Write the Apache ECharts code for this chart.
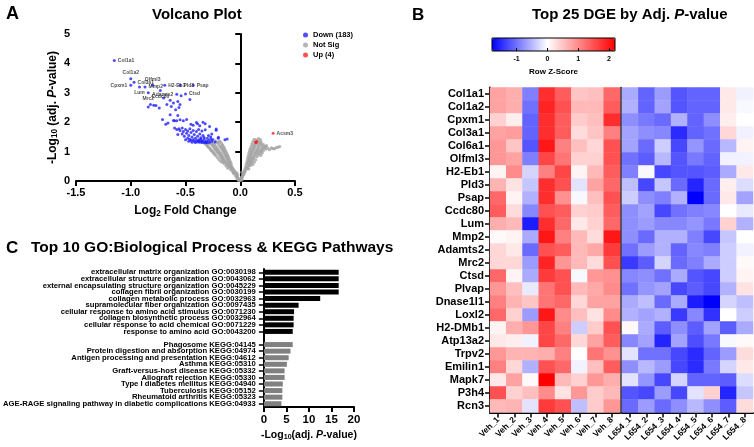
<!DOCTYPE html>
<html><head><meta charset="utf-8">
<script src="https://cdn.jsdelivr.net/npm/echarts@6/dist/echarts.min.js"></script>
<style>html,body{margin:0;padding:0;background:#fff}#c{width:754px;height:447px}</style>
</head><body><div id="c"></div>
<script>
// ---------------- DATA ----------------
// Panel A: volcano
const nsPoints = [
[0.003,0.02],[-0.006,0.04],[0.008,0.06],[-0.012,0.05],[-0.018,0.09],[0.014,0.1],[-0.025,0.12],[0.02,0.14],[-0.03,0.16],[-0.022,0.2],[0.025,0.19],[0.033,0.23],[-0.04,0.21],[-0.045,0.26],[-0.034,0.28],[0.03,0.27],[0.042,0.3],[-0.055,0.3],[-0.05,0.34],[-0.068,0.33],[0.037,0.35],[0.052,0.37],[-0.06,0.39],[-0.075,0.4],[-0.088,0.38],[0.045,0.42],[0.065,0.43],[0.078,0.41],
[-0.015,0.02],[0.018,0.04],[-0.028,0.07],[0.01,0.12],[-0.04,0.15],[0.022,0.22],[-0.058,0.24],[-0.03,0.25],[0.015,0.3],[-0.065,0.29],
[-0.07,0.45],[-0.085,0.47],[-0.1,0.46],[-0.115,0.44],[0.05,0.49],[0.07,0.5],[0.09,0.52],[-0.08,0.52],[-0.095,0.54],[-0.11,0.53],[-0.13,0.51],[0.055,0.57],[0.078,0.58],[0.1,0.59],[0.115,0.56],
[-0.085,0.6],[-0.105,0.61],[-0.125,0.62],[-0.145,0.59],[-0.16,0.63],[0.06,0.65],[0.085,0.66],[0.108,0.67],[0.128,0.64],
[-0.092,0.67],[-0.113,0.69],[-0.138,0.68],[-0.162,0.7],[-0.178,0.66],[0.066,0.73],[0.09,0.74],[0.118,0.75],[0.142,0.72],
[-0.1,0.74],[-0.122,0.76],[-0.148,0.75],[-0.172,0.77],[-0.195,0.73],[0.07,0.81],[0.097,0.82],[0.126,0.8],[0.155,0.83],
[-0.108,0.81],[-0.13,0.83],[-0.158,0.82],[-0.185,0.84],[-0.21,0.8],[0.075,0.89],[0.103,0.9],[0.138,0.88],[0.165,0.91],[0.188,0.87],
[-0.115,0.88],[-0.14,0.9],[-0.168,0.89],[-0.198,0.91],[-0.225,0.87],[0.08,0.97],[0.112,0.98],[0.148,0.96],[0.178,0.99],[0.2,0.95],
[-0.123,0.95],[-0.152,0.97],[-0.18,0.96],[-0.212,0.98],[-0.24,0.94],[0.086,1.04],[0.12,1.05],[0.158,1.03],[0.19,1.06],[0.21,1.02],
[-0.132,1.02],[-0.163,1.04],[-0.195,1.03],[-0.228,1.05],[-0.258,1.01],[0.092,1.11],[0.13,1.12],[0.168,1.1],[0.198,1.13],
[-0.142,1.09],[-0.175,1.11],[-0.208,1.1],[-0.24,1.12],[-0.272,1.08],[0.1,1.19],[0.138,1.2],[0.176,1.18],[0.2,1.21],
[-0.15,1.16],[-0.186,1.18],[-0.22,1.17],[-0.255,1.19],[-0.29,1.15],[0.108,1.27],[0.148,1.28],[0.186,1.26],
[-0.162,1.23],[-0.198,1.25],[-0.235,1.24],[-0.27,1.26],[-0.305,1.22],[0.118,1.35],[0.158,1.36],[0.19,1.33],
[-0.172,1.29],[-0.21,1.31],[-0.25,1.3],[-0.285,1.28],[0.128,1.42],[0.168,1.44],[0.185,1.4],
[-0.185,1.35],[-0.225,1.36],[0.232,1.08],[0.25,1.12],[0.268,1.07],[0.3,1.1],[0.33,1.14],[0.36,1.17],[0.22,1.15],[0.24,1.2],[0.21,1.25],
[-0.078,0.43],[-0.093,0.5],[-0.12,0.57],[-0.14,0.65],[-0.155,0.72],[-0.165,0.79],[-0.178,0.87],[-0.19,0.94],[-0.205,1.0],[-0.218,1.07],[-0.232,1.14],[-0.245,1.21],[-0.262,1.28],[-0.198,1.33],
[-0.095,0.63],[-0.11,0.72],[-0.12,0.8],[-0.13,0.88],[-0.14,0.97],[-0.15,1.05],[-0.16,1.13],[-0.17,1.2],[-0.236,0.91],[-0.25,0.99],[-0.265,1.04],[-0.28,1.12],[-0.3,1.19],[-0.318,1.26],
[0.058,0.46],[0.083,0.54],[0.095,0.63],[0.105,0.71],[0.115,0.79],[0.125,0.86],[0.133,0.94],[0.142,1.01],[0.152,1.08],[0.16,1.16],[0.168,1.24],[0.175,1.31],[0.145,1.4],
[0.068,0.6],[0.078,0.69],[0.086,0.77],[0.09,0.85],[0.096,0.93],[0.102,1.0],[0.11,1.08],[0.118,1.15],[0.125,1.22],[0.135,1.3],[0.172,0.93],[0.185,1.0],[0.2,1.07],[0.215,1.13],[0.228,1.18],[0.285,1.13],[0.315,1.1],[0.345,1.15]
];
const downPoints = [
[-0.82,2.6],[-0.84,2.52],[-0.79,2.58],[-0.77,2.57],[-0.74,2.48],[-0.7,2.82],[-0.64,2.75],[-0.67,2.6],[-0.63,2.53],[-0.59,2.42],[-0.57,2.7],[-0.56,2.5],[-0.55,2.6],[-0.46,2.77],[-0.54,2.9],[-0.61,2.65],
[-0.71,2.09],[-0.68,1.93],[-0.66,1.97],[-0.64,2.25],[-0.61,2.06],[-0.6,2.05],[-0.58,2.05],[-0.57,2.23],[-0.55,2.08],[-0.52,2.05],[-0.49,2.09],[-0.45,1.93],[-0.43,1.9],[-0.4,1.99],[-0.37,1.88],[-0.34,2.0],[-0.32,1.95],[-0.28,1.85],
[-0.6,1.8],[-0.58,1.75],[-0.56,1.78],[-0.55,1.72],[-0.53,1.8],[-0.52,1.68],[-0.5,1.75],[-0.49,1.62],[-0.48,1.7],[-0.47,1.55],[-0.46,1.78],[-0.45,1.65],[-0.44,1.5],[-0.43,1.72],[-0.42,1.58],[-0.41,1.45],[-0.4,1.68],[-0.39,1.52],[-0.38,1.4],[-0.37,1.6],[-0.36,1.47],[-0.35,1.37],[-0.34,1.55],[-0.33,1.42],[-0.32,1.74],[-0.31,1.35],[-0.3,1.45],[-0.29,1.38],[-0.28,1.32],[-0.27,1.5],[-0.26,1.35],[-0.25,1.41],[-0.22,1.73],[-0.2,1.45],[-0.14,1.4],[-0.23,1.33],
[-0.51,1.52],[-0.48,1.45],[-0.46,1.42],[-0.45,1.38],[-0.43,1.4],[-0.42,1.35],[-0.4,1.38],[-0.39,1.33],[-0.38,1.35],[-0.37,1.32],[-0.36,1.36],[-0.35,1.31],[-0.34,1.34],[-0.33,1.3],[-0.32,1.33],[-0.31,1.31],[-0.3,1.3],[-0.44,1.32],[-0.41,1.31],[-0.47,1.35],[-0.5,1.4],[-0.53,1.6],[-0.57,1.58],[-0.36,1.43],[-0.33,1.48],[-0.29,1.55],[-0.27,1.42],[-0.26,1.6],[-0.38,1.75],[-0.35,1.7],[-0.39,1.95],[-0.22,1.77],[-0.12,1.43],[-0.2,1.49]
];
const labelGenes = ['Col1a1','Col1a2','Col3a1','Cpxm1','Lum','Mmp2','Olfml3','Mrc2','H2-Eb1','Ccdc80','Adamts2','Pld3','Psap','Ctsd'];
const labelX = [-1.15,-1.0,-0.97,-1.0,-0.92,-0.87,-0.8,-0.84,-0.69,-0.73,-0.58,-0.55,-0.43,-0.5];
const labelY = [4.1,3.48,3.36,3.26,3.2,3.2,3.26,3.0,3.26,3.08,2.95,3.26,3.26,2.96];
const upPoints = [[0.3,1.62],[0.14,1.32],[0.15,1.34],[0.145,1.3]];
const upGenes = ['Acsm3','','',''];

// Panel C: enrichment
const goTerms = ['extracellular matrix organization GO:0030198','extracellular structure organization GO:0043062','external encapsulating structure organization GO:0045229','collagen fibril organization GO:0030199','collagen metabolic process GO:0032963','supramolecular fiber organization GO:0097435','cellular response to amino acid stimulus GO:0071230','collagen biosynthetic process GO:0032964','cellular response to acid chemical GO:0071229','response to amino acid GO:0043200'];
const goVals = [16.6,16.6,16.6,16.6,12.5,7.7,6.7,6.6,6.6,6.4];
const keggTerms = ['Phagosome KEGG:04145','Protein digestion and absorption KEGG:04974','Antigen processing and presentation KEGG:04612','Asthma KEGG:05310','Graft-versus-host disease KEGG:05332','Allograft rejection KEGG:05330','Type I diabetes mellitus KEGG:04940','Tuberculosis KEGG:05152','Rheumatoid arthritis KEGG:05323','AGE-RAGE signaling pathway in diabetic complications KEGG:04933'];
const keggVals = [6.4,5.9,5.5,5.1,4.6,4.6,4.2,4.1,4.1,3.9];

// Panel B: heatmap
const genes = ['Col1a1','Col1a2','Cpxm1','Col3a1','Col6a1','Olfml3','H2-Eb1','Pld3','Psap','Ccdc80','Lum','Mmp2','Adamts2','Mrc2','Ctsd','Plvap','Dnase1l1','Loxl2','H2-DMb1','Atp13a2','Trpv2','Emilin1','Mapk7','P3h4','Rcn3'];
const vehSamples = ['Veh_1','Veh_2','Veh_3','Veh_4','Veh_5','Veh_6','Veh_7','Veh_8'];
const l654Samples = ['L654_1','L654_2','L654_3','L654_4','L654_5','L654_6','L654_7','L654_8'];
const vehZ = [
[0.8,0.7,-0.9,1.8,1.4,0.5,0.55,1.3],
[0.8,0.7,-1.0,1.9,1.5,0.6,0.6,1.4],
[0.4,0.15,-1.1,1.8,1.4,0.45,0.55,1.8],
[0.8,0.85,-1.1,1.8,1.4,0.3,0.5,1.1],
[0.9,0.5,-1.2,2.0,1.1,0.55,0.35,1.5],
[0.9,0.8,-0.9,1.6,1.2,0.4,0.4,1.5],
[0.1,1.0,-0.3,1.1,1.6,0.1,0.6,1.4],
[0.65,0.25,-0.4,1.8,1.5,-0.2,0.8,1.3],
[1.3,0.1,-0.55,1.8,0.95,-0.05,0.55,1.5],
[1.4,0.3,-0.85,1.5,1.4,0.4,0.45,1.4],
[0.7,0.6,-1.6,1.8,1.3,0.2,0.4,1.3],
[0.05,0.1,-0.6,2.0,1.1,0.6,0.3,2.0],
[0.35,0.2,-1.05,1.5,1.4,0.6,0.75,1.7],
[0.35,0.35,-0.7,1.9,0.9,0.6,0.3,1.5],
[1.3,0.1,-0.6,1.7,1.5,-0.05,0.9,0.95],
[0.9,0.55,-0.15,1.2,1.5,0.6,0.75,1.0],
[1.1,0.65,0.5,1.2,1.3,0.35,0.8,0.8],
[1.3,0.4,-0.7,2.0,1.0,0.55,0.25,1.0],
[0.1,0.7,0.9,1.6,1.1,-0.35,0.45,1.5],
[0.2,0.15,-0.1,1.6,1.3,0.35,0.8,1.4],
[0.9,0.65,0.65,0.7,1.1,0.0,1.2,0.95],
[1.1,0.35,-0.55,1.5,1.3,-0.1,0.55,1.4],
[0.2,0.8,0.05,2.2,0.6,0.4,0.9,0.7],
[1.5,0.4,0.55,1.0,0.25,0.9,0.45,0.6],
[0.6,0.65,-0.2,1.7,1.5,-0.45,0.45,0.9]
];
const l654Z = [
[-0.6,-1.1,-0.7,-1.2,-1.1,-1.1,0.2,-0.1],
[-0.55,-1.1,-0.65,-1.2,-1.1,-1.1,0.2,-0.05],
[-0.8,-0.95,-1.05,-0.55,-1.1,-0.8,0.15,0.0],
[-0.65,-0.8,-0.85,-1.5,-1.1,-1.0,0.35,-0.1],
[-0.65,-1.05,-0.35,-1.3,-0.75,-1.05,-0.5,0.1],
[-1.0,-1.15,-0.5,-1.2,-0.95,-1.1,-0.1,-0.1],
[-0.9,-0.05,-1.3,-1.2,-1.2,-1.15,-0.6,0.2],
[-0.45,-1.3,-0.4,-1.05,-1.55,-1.05,0.15,-0.25],
[-0.35,-0.8,-0.9,-0.55,-1.8,-1.05,0.2,-0.65],
[-0.8,-0.65,-1.3,-1.0,-0.9,-0.85,0.0,-0.15],
[-0.8,-0.7,-0.85,-0.85,-0.75,-0.95,0.4,-0.55],
[-0.8,-1.05,-0.55,-0.55,-0.9,-1.3,-0.4,0.0],
[-1.0,-0.7,-0.55,-1.1,-0.85,-0.9,-0.35,-0.1],
[-1.4,-1.15,-0.3,-1.05,-0.9,-0.6,-0.35,0.05],
[-0.85,-0.8,-1.0,-0.6,-1.2,-1.3,-0.35,0.1],
[-1.0,-0.75,-0.65,-1.3,-1.15,-1.3,-0.55,0.25],
[-0.6,-0.45,-1.05,-0.6,-1.6,-1.8,-0.3,-0.45],
[-0.55,-0.65,-0.55,-1.4,-0.85,-1.45,0.0,-0.35],
[0.05,-0.6,-1.15,-0.8,-1.15,-0.65,-1.15,-0.6],
[-0.85,-0.65,-1.55,-0.65,-1.25,-0.95,-0.05,0.05],
[-0.2,-1.0,-1.0,-1.3,-1.5,-1.1,-0.7,0.3],
[-0.8,-0.5,-0.7,-1.3,-1.5,-0.95,-0.3,0.2],
[-0.2,-0.75,-1.3,-0.3,-1.1,-1.1,-1.15,-0.25],
[-1.2,-1.3,-0.7,-1.3,-0.2,0.4,-1.55,-0.4],
[-1.05,-0.7,-1.05,-0.8,-0.5,-0.8,-1.15,0.3]
];
const zMin = -1.8, zMax = 2.2;

// ---------------- STYLE / BUILD ----------------
const FONT = 'Liberation Sans, Arial, Helvetica, sans-serif';
const labelPos = {'Col1a1':'right','Col1a2':'top','Col3a1':'right','Cpxm1':'left','Lum':'bottom','Mmp2':'right','Olfml3':'top','Mrc2':'bottom','H2-Eb1':'right','Ccdc80':'bottom','Adamts2':'left','Pld3':'right','Psap':'right','Ctsd':'right'};

function buildColors(){
  const arr=[];
  for(let i=0;i<=40;i++){
    const v=zMin+i*(zMax-zMin)/40; let r,g,b;
    if(v<0){const t=Math.min(1,-v/(-zMin)); r=g=Math.round(255*(1-t)); b=255;}
    else {const t=Math.min(1,v/zMax); r=255; g=b=Math.round(255*(1-t));}
    arr.push('rgb('+r+','+g+','+b+')');
  }
  return arr;
}
const heatVeh=[], heatL=[];
genes.forEach((g,r)=>{
  vehZ[r].forEach((v,c)=>heatVeh.push([c,r,v]));
  l654Z[r].forEach((v,c)=>heatL.push([c,r,v]));
});
const downData = downPoints.map(p=>({value:p}));
labelGenes.forEach((g,i)=>downData.push({name:g,value:[labelX[i],labelY[i]],label:{show:true,position:labelPos[g]||'right'}}));
const upData = upPoints.map((p,i)=>({name:upGenes[i],value:p,label:{show:!!upGenes[i],position:'right'}}));
const cats = goTerms.concat(['']).concat(keggTerms);
const goSeries = goVals.concat(new Array(keggTerms.length+1).fill(null));
const keggSeries = new Array(goTerms.length+1).fill(null).concat(keggVals);

const black = '#000';
const axLine = {show:true,lineStyle:{color:black,width:2}};
const tickOut = {show:true,length:5,lineStyle:{color:black,width:2}};
const boldLbl = (fs,extra)=>Object.assign({color:black,fontWeight:'bold',fontSize:fs,fontFamily:FONT},extra||{});
const richSub = (fs)=>({
  sub:{fontSize:fs*0.68,fontWeight:'bold',fontFamily:FONT,color:black,verticalAlign:'bottom',padding:[fs*0.45,0,0,0]},
  it:{fontSize:fs,fontWeight:'bold',fontStyle:'italic',fontFamily:FONT,color:black}
});

const chart = echarts.init(document.getElementById('c'),null,{renderer:'canvas'});
chart.setOption({
  animation:false,
  backgroundColor:'#fff',
  title:[
    {text:'A',left:6,top:5,padding:0,textStyle:boldLbl(18)},
    {text:'Volcano Plot',left:152,top:7,padding:0,textStyle:boldLbl(15)},
    {text:'B',left:412,top:7,padding:0,textStyle:boldLbl(17)},
    {text:'Top 25 DGE by Adj. {it|P}-value',left:532,top:7,padding:0,textStyle:boldLbl(15,{rich:richSub(15)})},
    {text:'C',left:6,top:240,padding:0,textStyle:boldLbl(17)},
    {text:'Top 10 GO:Biological Process & KEGG Pathways',left:31,top:240,padding:0,textStyle:boldLbl(15.5)}
  ],
  legend:{data:['Down (183)','Not Sig','Up (4)'],orient:'vertical',left:303,top:31,padding:0,itemWidth:5,itemHeight:5,itemGap:2,icon:'circle',textStyle:boldLbl(7.5),selectedMode:false},
  grid:[
    {left:76,top:34,width:219,height:147},
    {left:261,top:269,width:93,height:138},
    {left:490,top:87.5,width:130,height:325},
    {left:622,top:87.5,width:131,height:325},
    {left:492,top:38,width:123,height:13}
  ],
  visualMap:{type:'continuous',min:zMin,max:zMax,seriesIndex:[5,6],orient:'horizontal',left:492,top:38,itemWidth:13,itemHeight:123,padding:0,calculable:false,text:null,showLabel:false,inRange:{color:buildColors()},hoverLink:false},
  xAxis:[
    {gridIndex:0,type:'value',min:-1.5,max:0.5,interval:0.5,axisLine:axLine,axisTick:tickOut,splitLine:{show:false},axisLabel:boldLbl(11,{margin:6,formatter:v=>v.toFixed(1)}),
     name:'Log{sub|2} Fold Change',nameLocation:'middle',nameGap:23,nameTextStyle:boldLbl(12,{rich:richSub(12)})},
    {gridIndex:1,type:'value',min:0,max:20,interval:5,axisLine:axLine,axisTick:tickOut,splitLine:{show:false},axisLabel:boldLbl(11.5,{margin:7}),
     name:'-Log{sub|10}(adj. {it|P}-value)',nameLocation:'middle',nameGap:22,nameTextStyle:boldLbl(10.5,{rich:richSub(10.5)})},
    {gridIndex:2,type:'category',data:vehSamples,position:'bottom',axisLine:axLine,axisTick:{show:true,length:5,alignWithLabel:true,lineStyle:{color:black,width:1.5}},axisLabel:boldLbl(8.5,{rotate:45,margin:6,interval:0}),splitLine:{show:false}},
    {gridIndex:3,type:'category',data:l654Samples,position:'bottom',axisLine:axLine,axisTick:{show:true,length:5,alignWithLabel:true,lineStyle:{color:black,width:1.5}},axisLabel:boldLbl(8.5,{rotate:45,margin:6,interval:0}),splitLine:{show:false}},
    {gridIndex:4,type:'value',min:zMin,max:zMax,position:'bottom',z:10,axisLine:{show:false},axisTick:{show:true,inside:true,length:3,lineStyle:{color:black,width:1}},splitLine:{show:false},
     axisLabel:boldLbl(7,{margin:5,showMinLabel:false,showMaxLabel:false}),name:'Row Z-Score',nameLocation:'middle',nameGap:17,nameTextStyle:boldLbl(8)}
  ],
  yAxis:[
    {gridIndex:0,type:'value',min:0,max:5,interval:1,axisLine:axLine,axisTick:tickOut,splitLine:{show:false},axisLabel:boldLbl(11,{margin:6}),
     name:'-Log{sub|10} (adj. {it|P}-value)',nameLocation:'middle',nameRotate:90,nameGap:17,nameTextStyle:boldLbl(12,{rich:richSub(12)})},
    {gridIndex:1,type:'category',data:cats,inverse:true,axisLine:axLine,axisTick:{show:true,length:5,alignWithLabel:true,interval:(i,v)=>v!=='',lineStyle:{color:black,width:1.5}},axisLabel:boldLbl(7.7,{margin:8,interval:0}),splitLine:{show:false}},
    {gridIndex:2,type:'category',data:genes,inverse:true,axisLine:axLine,axisTick:{show:true,length:5,alignWithLabel:true,lineStyle:{color:black,width:1.5}},axisLabel:boldLbl(11,{margin:6,interval:0}),splitLine:{show:false}},
    {gridIndex:3,type:'category',data:genes,inverse:true,offset:1.5,axisLine:{show:true,lineStyle:{color:black,width:1.5}},axisTick:{show:false},axisLabel:{show:false},splitLine:{show:false}},
    {gridIndex:4,type:'value',show:false}
  ],
  graphic:[{type:'rect',shape:{x:492,y:38,width:123,height:13},style:{fill:null,stroke:black,lineWidth:1},z:100}],
  series:[
    {name:'Not Sig',type:'scatter',xAxisIndex:0,yAxisIndex:0,data:nsPoints,symbolSize:3.2,itemStyle:{color:'#a3a3a3'},emphasis:{disabled:true}},
    {name:'Down (183)',type:'scatter',xAxisIndex:0,yAxisIndex:0,data:downData,symbolSize:3,itemStyle:{color:'#2222ff'},emphasis:{disabled:true},
     label:{show:false,formatter:'{b}',fontSize:5,fontWeight:'bold',color:'#222',fontFamily:FONT,distance:2}},
    {name:'Up (4)',type:'scatter',xAxisIndex:0,yAxisIndex:0,data:upData,symbolSize:3,itemStyle:{color:'#ff2222'},emphasis:{disabled:true},
     label:{formatter:'{b}',fontSize:5,fontWeight:'bold',color:'#222',fontFamily:FONT,distance:2}},
    {name:'GO',type:'bar',xAxisIndex:1,yAxisIndex:1,data:goSeries,barWidth:5,barGap:'-100%',itemStyle:{color:'#000'},emphasis:{disabled:true}},
    {name:'KEGG',type:'bar',xAxisIndex:1,yAxisIndex:1,data:keggSeries,barWidth:5,barGap:'-100%',itemStyle:{color:'#808080'},emphasis:{disabled:true}},
    {name:'heatVeh',type:'heatmap',xAxisIndex:2,yAxisIndex:2,data:heatVeh,emphasis:{disabled:true}},
    {name:'heatL654',type:'heatmap',xAxisIndex:3,yAxisIndex:3,data:heatL,emphasis:{disabled:true}}
  ]
});
</script></body></html>
